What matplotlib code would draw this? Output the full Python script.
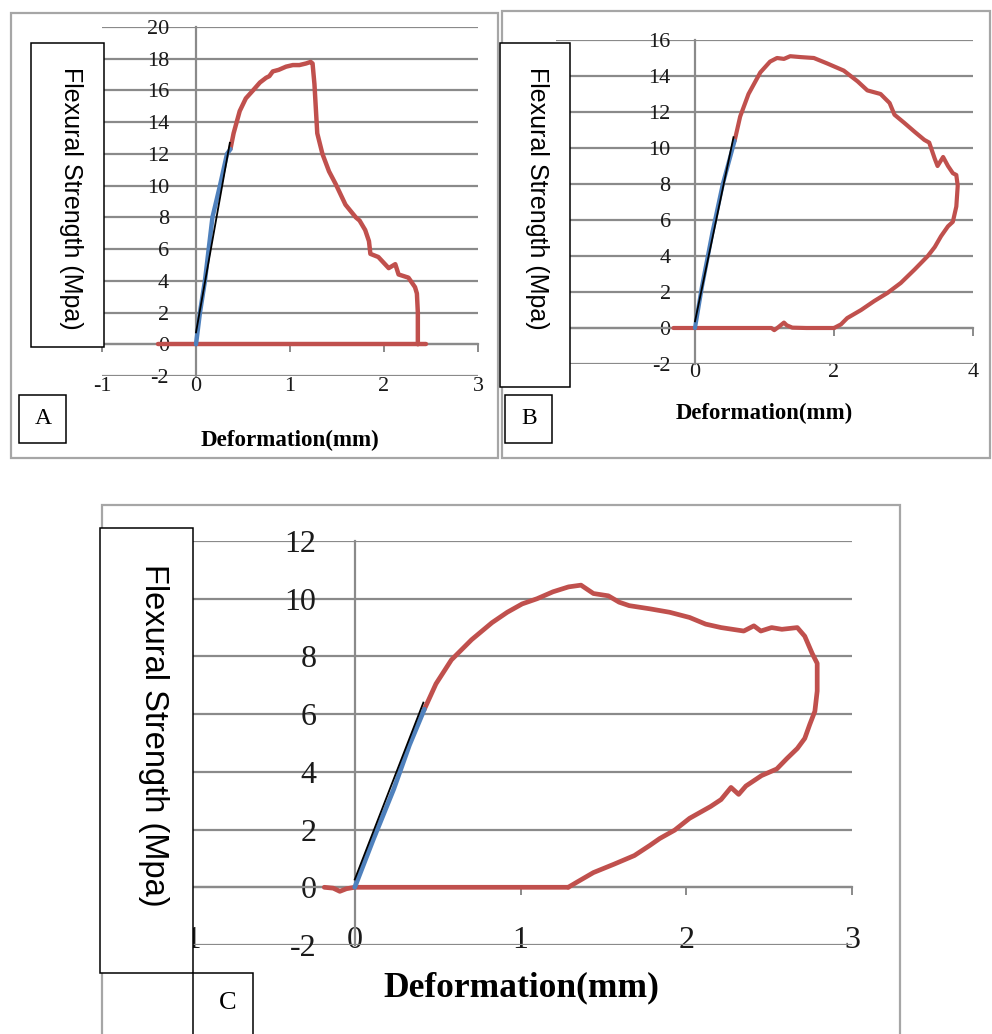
import matplotlib.pyplot as plt
from matplotlib.patches import Rectangle

plt.rcParams['axes.unicode_minus'] = False

W, H = 992, 1034
RED = '#C0504D'
BLUE = '#4F81BD'
GRID = '#8A8A8A'
SERIF = 'Liberation Serif'
SANS = 'Liberation Sans'

# ---- panel A ----
a_xticks = [-1, 0, 1, 2, 3]
a_yticks = list(range(-2, 21, 2))
a_fit_x = [0, 0.36]
a_fit_y = [0.75, 12.7]
a_lin_x = [0, 0.042, 0.095, 0.135, 0.175, 0.255, 0.33, 0.366]
a_lin_y = [0, 2, 4, 6, 8, 10, 12, 12.3]
a_curve_x = [0.366, 0.40, 0.465, 0.53, 0.606, 0.68, 0.746, 0.78, 0.817, 0.88, 0.958,
             1.03, 1.10, 1.17, 1.22, 1.24, 1.26, 1.29, 1.345, 1.415, 1.486, 1.59,
             1.70, 1.74, 1.80, 1.84, 1.855, 1.94, 2.05, 2.12, 2.155, 2.26, 2.33,
             2.35, 2.36, 2.36]
a_curve_y = [12.3, 13.3, 14.7, 15.5, 16.0, 16.5, 16.8, 16.9, 17.2, 17.3, 17.5,
             17.6, 17.6, 17.7, 17.8, 17.7, 16.4, 13.3, 12.0, 10.9, 10.1, 8.8,
             8.0, 7.8, 7.2, 6.5, 5.7, 5.5, 4.8, 5.05, 4.4, 4.2, 3.6,
             3.2, 2.0, 0]
a_base_x = [-0.4, 0.5, 1.0, 1.5, 2.0, 2.45]
a_base_y = [0, 0, 0, 0, 0, 0]

# ---- panel B ----
b_xticks = [-2, 0, 2, 4]
b_yticks = list(range(-2, 17, 2))
b_fit_x = [0, 0.554]
b_fit_y = [0.37, 10.6]
b_lin_x = [0, 0.1, 0.25, 0.4, 0.57]
b_lin_y = [0, 2.3, 5.3, 8.0, 10.4]
b_curve_x = [0.57, 0.65, 0.77, 0.94, 1.08, 1.18, 1.28, 1.37, 1.52, 1.71, 1.9, 2.14,
             2.34, 2.48, 2.67, 2.80, 2.87, 3.01, 3.16, 3.30, 3.37, 3.45, 3.49, 3.57,
             3.64, 3.71, 3.76, 3.78, 3.76, 3.71, 3.64, 3.54, 3.45, 3.35, 3.16, 2.96,
             2.77, 2.58, 2.39, 2.19, 2.10, 2.0]
b_curve_y = [10.4, 11.75, 13.0, 14.2, 14.8, 15.0, 14.95, 15.1, 15.05, 15.0, 14.7, 14.3,
             13.7, 13.2, 13.0, 12.5, 11.85, 11.4, 10.9, 10.45, 10.3, 9.4, 9.0, 9.5,
             9.0, 8.6, 8.5, 7.9, 6.75, 5.9, 5.65, 5.1, 4.5, 4.0, 3.25, 2.5,
             1.95, 1.5, 1.0, 0.55, 0.2, 0.0]
b_base_x = [2.0, 1.6, 1.4, 1.32, 1.28, 1.2, 1.14, 1.1, 0.8, 0.4, 0, -0.31]
b_base_y = [0, 0, 0.02, 0.15, 0.3, 0.05, -0.12, 0, 0, 0, 0, 0]

# ---- panel C ----
c_xticks = [-1, 0, 1, 2, 3]
c_yticks = list(range(-2, 13, 2))
c_fit_x = [0, 0.414]
c_fit_y = [0.27, 6.4]
c_lin_x = [0, 0.11, 0.235, 0.33, 0.42]
c_lin_y = [0, 1.63, 3.4, 4.93, 6.17]
c_curve_x = [0.42, 0.49, 0.583, 0.705, 0.828, 0.92, 1.01, 1.10, 1.196, 1.29, 1.365,
             1.44, 1.53, 1.595, 1.656, 1.78, 1.90, 2.02, 2.117, 2.21, 2.347, 2.408,
             2.45, 2.515, 2.577, 2.67, 2.715, 2.76, 2.79, 2.79, 2.776, 2.745, 2.715,
             2.67, 2.607, 2.546, 2.454, 2.36, 2.316, 2.27, 2.21, 2.147, 2.02, 1.93,
             1.84, 1.78, 1.687, 1.564, 1.44, 1.35, 1.288]
c_curve_y = [6.17, 7.05, 7.88, 8.58, 9.17, 9.53, 9.82, 10.0, 10.24, 10.41, 10.47,
             10.18, 10.1, 9.88, 9.76, 9.65, 9.53, 9.35, 9.12, 9.0, 8.88, 9.06,
             8.88, 9.0, 8.94, 9.0, 8.7, 8.1, 7.76, 6.8, 6.1, 5.64, 5.16,
             4.81, 4.46, 4.1, 3.87, 3.51, 3.22, 3.46, 3.04, 2.8, 2.39, 1.98,
             1.69, 1.45, 1.1, 0.8, 0.51, 0.21, 0.0]
c_base_x = [1.288, 0.8, 0.3, 0, -0.05, -0.09, -0.13, -0.184]
c_base_y = [0, 0, 0, 0, -0.05, -0.14, -0.03, 0]


def box(x0, y0, x1, y1):
    # pixel box -> figure fraction [left, bottom, width, height]
    return [x0 / W, 1 - y1 / H, (x1 - x0) / W, (y1 - y0) / H]


def fx(x):
    return x / W


def fy(y):
    return 1 - y / H


def panel(rect, xticks, yticks, fs, ypad, xpad, lw, fit, lin, curve, base):
    ax = fig.add_axes(rect)
    ax.set_xlim(xticks[0], xticks[-1])
    ax.set_ylim(yticks[0], yticks[-1])
    ax.set_xticks(xticks)
    ax.set_yticks(yticks)
    ax.spines['left'].set_position(('data', 0))
    ax.spines['top'].set_position(('data', 0))
    ax.spines['right'].set_visible(False)
    ax.spines['bottom'].set_visible(False)
    for s in ('left', 'top'):
        ax.spines[s].set_color(GRID)
        ax.spines[s].set_linewidth(1.6)
    ax.tick_params(axis='x', bottom=False, top=True, labelbottom=True, labeltop=False,
                   direction='in', length=6, width=1.4, color=GRID, pad=xpad,
                   labelsize=fs)
    ax.tick_params(axis='y', left=False, right=False, pad=ypad, labelsize=fs)
    for lab in ax.get_xticklabels() + ax.get_yticklabels():
        lab.set_fontfamily(SERIF)
        lab.set_color('#1a1a1a')
    ax.grid(axis='y', color=GRID, lw=1.6)
    ax.set_axisbelow(True)
    ax.patch.set_alpha(0)
    ax.plot(base[0], base[1], color=RED, lw=lw, solid_capstyle='round', zorder=3)
    ax.plot(curve[0], curve[1], color=RED, lw=lw, solid_capstyle='round',
            solid_joinstyle='round', zorder=3)
    ax.plot(lin[0], lin[1], color=BLUE, lw=lw, solid_capstyle='round', zorder=4)
    ax.plot(fit[0], fit[1], color='black', lw=1.3, zorder=5)
    return ax


fig = plt.figure(figsize=(W / 100, H / 100), dpi=100)

# outer frames of the three charts
for (x0, y0, x1, y1) in [(11, 13, 498, 458), (502, 11, 990, 458), (102, 505, 900, 1040)]:
    fig.patches.append(Rectangle((fx(x0), fy(y1)), (x1 - x0) / W, (y1 - y0) / H,
                                 transform=fig.transFigure, fill=False,
                                 edgecolor='#A6A6A6', lw=1.6, zorder=0))

panel(box(102, 27, 478, 376), a_xticks, a_yticks, 16, 16, 1, 3.2,
      (a_fit_x, a_fit_y), (a_lin_x, a_lin_y), (a_curve_x, a_curve_y), (a_base_x, a_base_y))
panel(box(556, 40, 973, 364), b_xticks, b_yticks, 16, 14, -1, 3.0,
      (b_fit_x, b_fit_y), (b_lin_x, b_lin_y), (b_curve_x, b_curve_y), (b_base_x, b_base_y))
panel(box(189, 541, 852, 945), c_xticks, c_yticks, 23, 24, -14, 3.4,
      (c_fit_x, c_fit_y), (c_lin_x, c_lin_y), (c_curve_x, c_curve_y), (c_base_x, c_base_y))

# white label boxes over the charts
label_boxes = [(31, 43, 104, 347), (500, 43, 570, 387), (100, 528, 193, 973),
               (19, 395, 66, 443), (505, 395, 552, 443), (193, 973, 253, 1040)]
for (x0, y0, x1, y1) in label_boxes:
    fig.patches.append(Rectangle((fx(x0), fy(y1)), (x1 - x0) / W, (y1 - y0) / H,
                                 transform=fig.transFigure, facecolor='white',
                                 edgecolor='black', lw=1.1, zorder=5))

ytitle = 'Flexural Strength (Mpa)'
fig.text(fx(71), fy(198), ytitle, rotation=270, ha='center', va='center',
         family=SANS, fontsize=18, zorder=6)
fig.text(fx(537), fy(198), ytitle, rotation=270, ha='center', va='center',
         family=SANS, fontsize=18, zorder=6)
fig.text(fx(153), fy(735), ytitle, rotation=270, ha='center', va='center',
         family=SANS, fontsize=23.5, zorder=6)

fig.text(fx(290), fy(440), 'Deformation(mm)', ha='center', va='center',
         family=SERIF, weight='bold', fontsize=16.6, zorder=6)
fig.text(fx(764), fy(413), 'Deformation(mm)', ha='center', va='center',
         family=SERIF, weight='bold', fontsize=16.4, zorder=6)
fig.text(fx(521), fy(988), 'Deformation(mm)', ha='center', va='center',
         family=SERIF, weight='bold', fontsize=25.5, zorder=6)

fig.text(fx(43), fy(419), 'A', ha='center', va='center', family=SERIF, fontsize=17, zorder=6)
fig.text(fx(529), fy(419), 'B', ha='center', va='center', family=SERIF, fontsize=17, zorder=6)
fig.text(fx(228), fy(1003), 'C', ha='center', va='center', family=SERIF, fontsize=19, zorder=6)

fig.savefig('out.png', dpi=100)
